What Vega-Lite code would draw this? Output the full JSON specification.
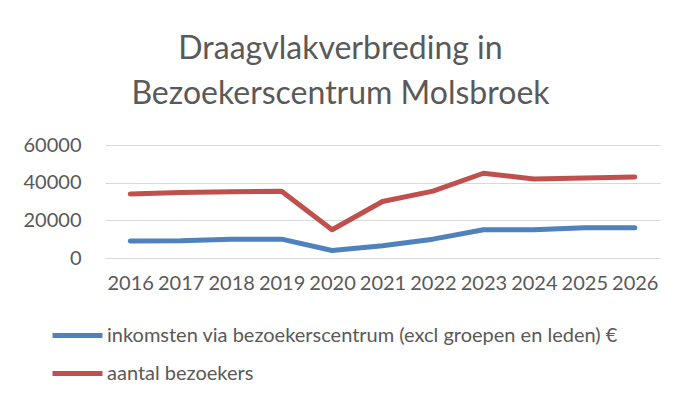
{
  "$schema": "https://vega.github.io/schema/vega-lite/v6.json",
  "width": 555,
  "height": 113,
  "autosize": "none",
  "padding": {"left": 105, "top": 145, "right": 18, "bottom": 146},
  "background": "white",
  "title": {
    "text": ["Draagvlakverbreding in", "Bezoekerscentrum Molsbroek"],
    "font": "Lato",
    "fontSize": 32,
    "fontWeight": "normal",
    "color": "#595959",
    "anchor": "middle",
    "frame": "group",
    "dx": -42,
    "lineHeight": 45,
    "offset": 24
  },
  "data": {
    "values": [
      {"jaar": "2016", "reeks": "inkomsten via bezoekerscentrum (excl groepen en leden) €", "waarde": 9000},
      {"jaar": "2017", "reeks": "inkomsten via bezoekerscentrum (excl groepen en leden) €", "waarde": 9200},
      {"jaar": "2018", "reeks": "inkomsten via bezoekerscentrum (excl groepen en leden) €", "waarde": 10000},
      {"jaar": "2019", "reeks": "inkomsten via bezoekerscentrum (excl groepen en leden) €", "waarde": 10000},
      {"jaar": "2020", "reeks": "inkomsten via bezoekerscentrum (excl groepen en leden) €", "waarde": 4000},
      {"jaar": "2021", "reeks": "inkomsten via bezoekerscentrum (excl groepen en leden) €", "waarde": 6500},
      {"jaar": "2022", "reeks": "inkomsten via bezoekerscentrum (excl groepen en leden) €", "waarde": 10000},
      {"jaar": "2023", "reeks": "inkomsten via bezoekerscentrum (excl groepen en leden) €", "waarde": 15000},
      {"jaar": "2024", "reeks": "inkomsten via bezoekerscentrum (excl groepen en leden) €", "waarde": 15000},
      {"jaar": "2025", "reeks": "inkomsten via bezoekerscentrum (excl groepen en leden) €", "waarde": 16000},
      {"jaar": "2026", "reeks": "inkomsten via bezoekerscentrum (excl groepen en leden) €", "waarde": 16000},
      {"jaar": "2016", "reeks": "aantal bezoekers", "waarde": 34000},
      {"jaar": "2017", "reeks": "aantal bezoekers", "waarde": 34800},
      {"jaar": "2018", "reeks": "aantal bezoekers", "waarde": 35200},
      {"jaar": "2019", "reeks": "aantal bezoekers", "waarde": 35500},
      {"jaar": "2020", "reeks": "aantal bezoekers", "waarde": 15000},
      {"jaar": "2021", "reeks": "aantal bezoekers", "waarde": 30000},
      {"jaar": "2022", "reeks": "aantal bezoekers", "waarde": 35500},
      {"jaar": "2023", "reeks": "aantal bezoekers", "waarde": 45000},
      {"jaar": "2024", "reeks": "aantal bezoekers", "waarde": 42000},
      {"jaar": "2025", "reeks": "aantal bezoekers", "waarde": 42500},
      {"jaar": "2026", "reeks": "aantal bezoekers", "waarde": 43000}
    ]
  },
  "mark": {"type": "line", "strokeWidth": 5, "strokeCap": "round", "strokeJoin": "round"},
  "encoding": {
    "x": {
      "field": "jaar",
      "type": "ordinal",
      "scale": {"type": "point", "padding": 0.5},
      "axis": {
        "title": null,
        "labelAngle": 0,
        "labelFont": "Lato",
        "labelFontSize": 20,
        "labelColor": "#595959",
        "labelPadding": 15,
        "ticks": false,
        "domain": true,
        "domainColor": "#D9D9D9",
        "grid": false
      }
    },
    "y": {
      "field": "waarde",
      "type": "quantitative",
      "scale": {"domain": [0, 60000], "nice": false},
      "axis": {
        "title": null,
        "values": [0, 20000, 40000, 60000],
        "format": "d",
        "labelFont": "Lato",
        "labelFontSize": 20,
        "labelColor": "#595959",
        "labelPadding": 24,
        "ticks": false,
        "domain": false,
        "grid": true,
        "gridColor": "#D9D9D9",
        "gridWidth": 1
      }
    },
    "color": {
      "field": "reeks",
      "type": "nominal",
      "scale": {
        "domain": ["inkomsten via bezoekerscentrum (excl groepen en leden) €", "aantal bezoekers"],
        "range": ["#4F81BD", "#C0504D"]
      },
      "legend": {
        "title": null,
        "orient": "none",
        "legendX": -55,
        "legendY": 163,
        "direction": "vertical",
        "symbolType": "stroke",
        "symbolSize": 2500,
        "symbolStrokeWidth": 5,
        "labelFont": "Lato",
        "labelFontSize": 20,
        "labelColor": "#595959",
        "labelOffset": 2,
        "labelLimit": 600,
        "rowPadding": -9
      }
    }
  },
  "config": {"view": {"stroke": null}}
}
